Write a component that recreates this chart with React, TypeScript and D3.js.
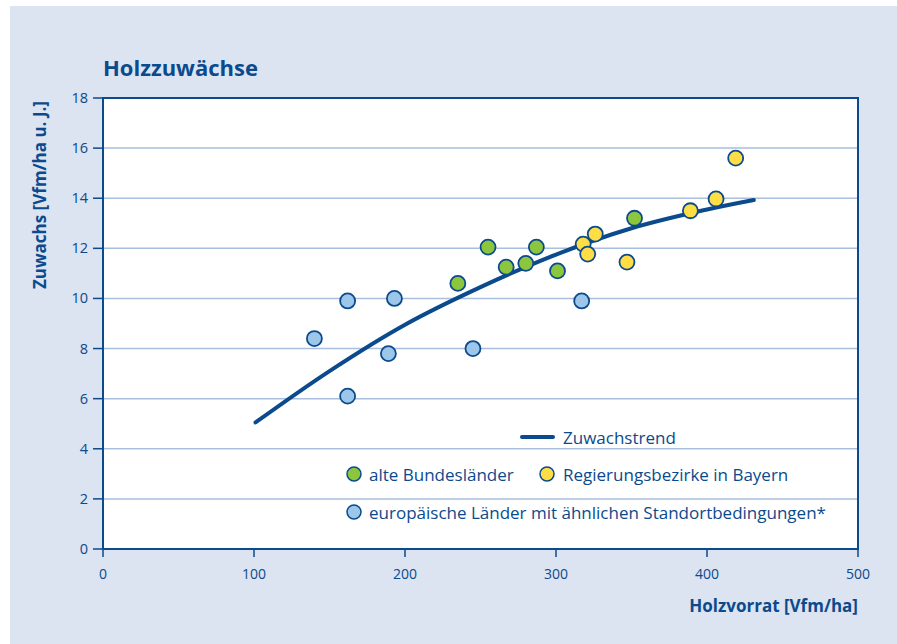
import * as d3 from "d3";

const xTicks = [0, 100, 200, 300, 400, 500];
const yTicks = [0, 2, 4, 6, 8, 10, 12, 14, 16, 18];

// [Holzvorrat, Zuwachs]
const europe: [number, number][] = [
  [140, 8.4], [162, 9.9], [162, 6.1], [189, 7.8], [193, 10.0], [245, 8.0], [317, 9.9],
];
const altBL: [number, number][] = [
  [235, 10.6], [255, 12.05], [267, 11.25], [280, 11.4], [287, 12.05], [301, 11.1], [352, 13.2],
];
const bayern: [number, number][] = [
  [318, 12.17], [321, 11.77], [326, 12.57], [347, 11.45], [389, 13.5], [406, 13.97], [419, 15.6],
];
const trend: [number, number][] = [
  [101, 5.05], [150, 7.1], [200, 8.95], [250, 10.45], [300, 11.75], [350, 12.8], [400, 13.55], [431, 13.93],
];

const DARK = "#0b4a8c";
const GRID = "#a9bfdd";
const BG = "#dce3f1";
const GREEN = "#8cc63f";
const YELLOW = "#ffde45";
const LBLUE = "#9cc6ea";
const FONT = "'Open Sans', 'Noto Sans', sans-serif";

export default function App() {
  const W = 897, H = 644;
  const left = 103, right = 858, top = 98, bottom = 549;
  const x = d3.scaleLinear().domain([0, 500]).range([left, right]);
  const y = d3.scaleLinear().domain([0, 18]).range([bottom, top]);
  const line = d3.line<[number, number]>().x(d => x(d[0])).y(d => y(d[1])).curve(d3.curveCatmullRom);

  const dots = (data: [number, number][], fill: string, key: string) =>
    data.map((d, i) => (
      <circle key={key + i} cx={x(d[0])} cy={y(d[1])} r={7.5} fill={fill} stroke={DARK} strokeWidth={1.8} />
    ));

  return (
    <svg width={W} height={H} style={{ position: "absolute", left: 0, top: 0, display: "block" }} fontFamily={FONT}>
      <rect x={0} y={0} width={W} height={H} fill="#fff" />
      <rect x={10} y={6} width={W - 10} height={H - 6} fill={BG} />
      <text x={103} y={76} fontSize={22} fontWeight={700} fill={DARK}>Holzzuwächse</text>

      <rect x={left} y={top} width={right - left} height={bottom - top} fill="#fff" />
      {yTicks.filter(t => t > 0 && t < 18).map(t => (
        <line key={"g" + t} x1={left} x2={right} y1={y(t)} y2={y(t)} stroke={GRID} strokeWidth={1.5} />
      ))}
      <rect x={left} y={top} width={right - left} height={bottom - top} fill="none" stroke={DARK} strokeWidth={2} />
      {yTicks.map(t => (
        <g key={"y" + t}>
          <line x1={left - 10} x2={left} y1={y(t)} y2={y(t)} stroke={DARK} strokeWidth={1.5} />
          <text x={88} y={y(t) + 5} textAnchor="end" fontSize={14.5} fill={DARK}>{t}</text>
        </g>
      ))}
      {xTicks.map(t => (
        <g key={"x" + t}>
          <line x1={x(t)} x2={x(t)} y1={bottom} y2={bottom + 8} stroke={DARK} strokeWidth={1.5} />
          <text x={x(t)} y={579} textAnchor="middle" fontSize={14} fill={DARK}>{t}</text>
        </g>
      ))}
      <text transform={`translate(46,195) rotate(-90)`} textAnchor="middle" fontSize={17} fontWeight={700} fill={DARK}>
        Zuwachs [Vfm/ha u. J.]
      </text>
      <text x={858} y={612} textAnchor="end" fontSize={17} fontWeight={700} fill={DARK}>Holzvorrat [Vfm/ha]</text>

      <path d={line(trend) ?? ""} fill="none" stroke={DARK} strokeWidth={4} strokeLinecap="round" />
      {dots(europe, LBLUE, "e")}
      {dots(altBL, GREEN, "a")}
      {dots(bayern, YELLOW, "b")}

      <line x1={522} x2={553} y1={437} y2={437} stroke={DARK} strokeWidth={4} strokeLinecap="round" />
      <text x={563} y={444} fontSize={17} fill={DARK}>Zuwachstrend</text>
      <circle cx={354} cy={474} r={7} fill={GREEN} stroke={DARK} strokeWidth={1.5} />
      <text x={369} y={481} fontSize={17} fill={DARK}>alte Bundesländer</text>
      <circle cx={547} cy={474} r={7} fill={YELLOW} stroke={DARK} strokeWidth={1.5} />
      <text x={563} y={481} fontSize={17} fill={DARK}>Regierungsbezirke in Bayern</text>
      <circle cx={354} cy={512} r={7} fill={LBLUE} stroke={DARK} strokeWidth={1.5} />
      <text x={369} y={519} fontSize={17} fill={DARK}>europäische Länder mit ähnlichen Standortbedingungen*</text>
    </svg>
  );
}
